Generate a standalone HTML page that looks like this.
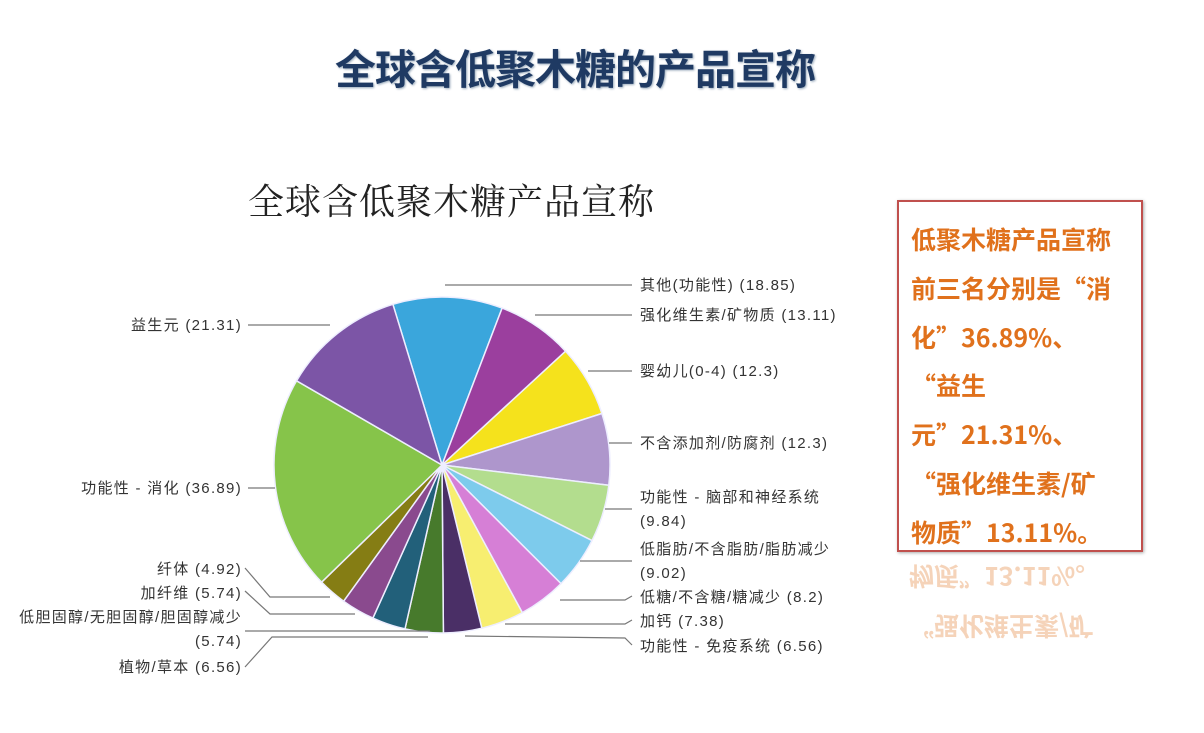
<!DOCTYPE html>
<html><head><meta charset="utf-8">
<style>
body{margin:0;width:1204px;height:733px;background:#fff;overflow:hidden;position:relative;font-family:"Liberation Sans","Noto Sans CJK SC",sans-serif}
.t1{position:absolute;left:335px;top:36px;font-size:41px;font-weight:bold;color:#1f3a63;letter-spacing:-1px;white-space:nowrap;text-shadow:1px 1px 2px #9ab}
.t2{position:absolute;left:248px;top:174px;font-family:"Noto Serif CJK SC",serif;font-size:36px;color:#222;white-space:nowrap;letter-spacing:1px}
.box{position:absolute;left:897px;top:200px;width:242px;height:348px;border:2px solid #c0504d;box-shadow:1px 1px 3px #aaa}
.box div,.refl div{position:absolute;left:12px;font-family:"Noto Sans CJK SC",sans-serif;font-size:25px;font-weight:bold;color:#e0711c;white-space:nowrap;line-height:30px}
.refl{position:absolute;left:897px;top:552px;width:244px;height:120px;overflow:hidden;opacity:.3}
</style></head><body>
<div class="t1">全球含低聚木糖的产品宣称</div>
<div class="t2">全球含低聚木糖产品宣称</div>
<svg id="s" width="1204" height="733" style="position:absolute;left:0;top:0" font-family="Liberation Sans, Noto Sans CJK SC, sans-serif" font-size="15" fill="#333"></svg>
<div class="box">
<div style="top:22px">低聚木糖产品宣称</div>
<div style="top:71px">前三名分别是“消</div>
<div style="top:120px">化”36.89%、</div>
<div style="top:168px">“益生</div>
<div style="top:217px">元”21.31%、</div>
<div style="top:266px">“强化维生素/矿</div>
<div style="top:315px">物质”13.11%。</div>
</div>
<div class="refl"><div style="top:10px;transform:scaleY(-1)">物质”13.11%。</div><div style="top:60px;transform:scaleY(-1)">“强化维生素/矿</div></div>
<script>
var s=document.getElementById('s'),cx=442,cy=465,r=168;
var d=[[18.85,'#3aa6dc'],[13.11,'#9b3f9e'],[12.3,'#f5e21c'],[12.3,'#ae96cc'],[9.84,'#b3dd8e'],[9.02,'#7dcbec'],[8.2,'#d67fd6'],[7.38,'#f7ee70'],[6.56,'#4a2f66'],[6.56,'#477a2c'],[5.74,'#22607a'],[5.74,'#8a4a8e'],[4.92,'#857d14'],[36.89,'#86c44a'],[21.31,'#7c55a6']];
var tot=0;d.forEach(function(a){tot+=a[0]});
var a0=-17*Math.PI/180,h='';
d.forEach(function(e){var a1=a0+e[0]/tot*2*Math.PI;
var x0=cx+r*Math.sin(a0),y0=cy-r*Math.cos(a0),x1=cx+r*Math.sin(a1),y1=cy-r*Math.cos(a1);
h+='<path d="M'+cx+' '+cy+'L'+x0.toFixed(1)+' '+y0.toFixed(1)+'A'+r+' '+r+' 0 '+((a1-a0)>Math.PI?1:0)+' 1 '+x1.toFixed(1)+' '+y1.toFixed(1)+'Z" fill="'+e[1]+'" stroke="#eef" stroke-width="1.5"/>';a0=a1;});
var L='<g stroke="#777" fill="none" stroke-width="1.2">'+
'<polyline points="445,285 632,285"/><polyline points="535,315 632,315"/><polyline points="588,371 632,371"/><polyline points="609,443 632,443"/>'+
'<polyline points="605,509 632,509"/><polyline points="580,561 632,561"/><polyline points="560,600 625,600 632,596"/><polyline points="505,624 625,624 632,620"/><polyline points="465,636 625,638 632,645"/>'+
'<polyline points="248,325 330,325"/><polyline points="248,488 275,488"/>'+
'<polyline points="245,568 270,597 330,597"/><polyline points="245,591 270,614 355,614"/><polyline points="245,631 430,631"/><polyline points="245,667 272,637 428,637"/></g>';
var T=[[640,290,'其他(功能性) (18.85)'],[640,320,'强化维生素/矿物质 (13.11)'],[640,376,'婴幼儿(0-4) (12.3)'],[640,448,'不含添加剂/防腐剂 (12.3)'],[640,502,'功能性 - 脑部和神经系统'],[640,526,'(9.84)'],[640,554,'低脂肪/不含脂肪/脂肪减少'],[640,578,'(9.02)'],[640,602,'低糖/不含糖/糖减少 (8.2)'],[640,626,'加钙 (7.38)'],[640,651,'功能性 - 免疫系统 (6.56)']];
var R=[[242,330,'益生元 (21.31)'],[242,493,'功能性 - 消化 (36.89)'],[242,574,'纤体 (4.92)'],[242,598,'加纤维 (5.74)'],[242,622,'低胆固醇/无胆固醇/胆固醇减少'],[242,646,'(5.74)'],[242,672,'植物/草本 (6.56)']];
T.forEach(function(t){L+='<text x="'+t[0]+'" y="'+t[1]+'" letter-spacing="1.3">'+t[2]+'</text>'});
R.forEach(function(t){L+='<text x="'+t[0]+'" y="'+t[1]+'" text-anchor="end" letter-spacing="1.3">'+t[2]+'</text>'});
s.innerHTML=h+L;
</script>
</body></html>
